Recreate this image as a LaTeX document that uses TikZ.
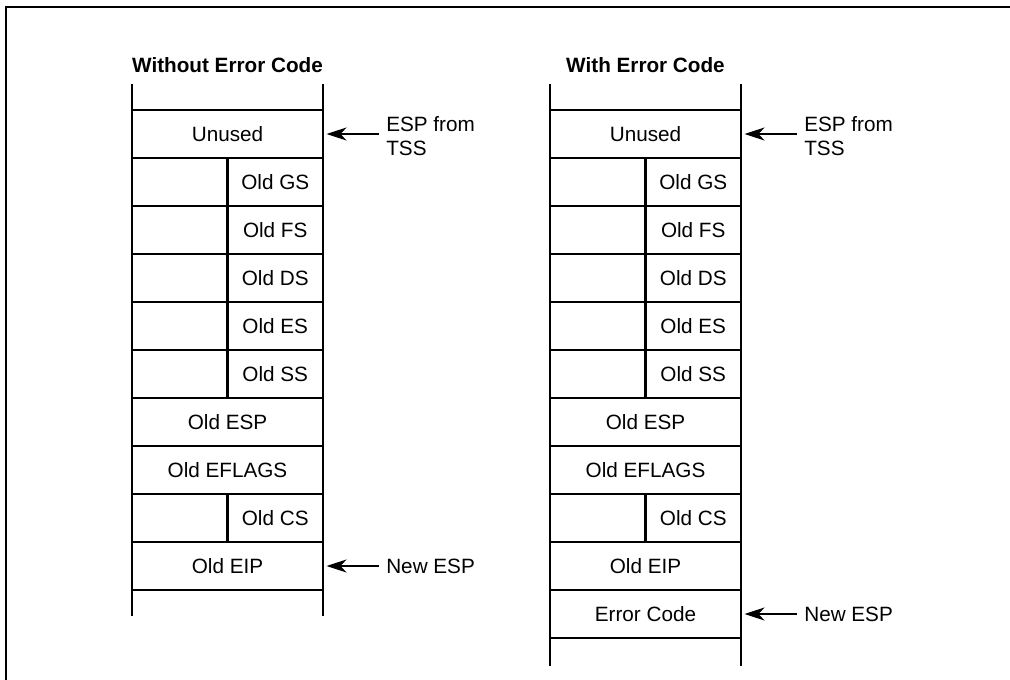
\documentclass[tikz,border=0pt]{standalone}
\usepackage{fontspec}
\setmainfont{Liberation Sans}
\usetikzlibrary{arrows.meta}
\begin{document}
\begin{tikzpicture}[x=1pt,y=-1pt,line width=2.6pt,
  txt/.style={font=\fontsize{20.7}{24}\selectfont},
  full/.style={draw,txt,minimum width=191pt,minimum height=48pt,inner sep=0pt,outer sep=0pt},
  half/.style={draw,txt,minimum width=95.5pt,minimum height=48pt,inner sep=0pt,outer sep=0pt},
  title/.style={font=\fontsize{20.7}{24}\selectfont\bfseries,anchor=base},
  lbl/.style={txt,anchor=west,inner sep=0pt,align=left},
  arr/.style={line width=2pt,-{Stealth[length=20pt,width=13pt,inset=6pt]},shorten >=3.5pt}]
\useasboundingbox (0,0) rectangle (1010,680);
\draw (6,680) -- (6,7) -- (1010,7);
\node[title] (tL) at (227.5,72) {Without Error Code};
\node[title] (tR) at (645.5,72) {With Error Code};
\foreach \dx/\n in {0/L,418/R}{
  \foreach \i/\t in {1/Unused,7/Old ESP,8/Old EFLAGS,10/Old EIP}
    \node[full] (\n\i) at (227.5+\dx,86+48*\i) {\t};
  \foreach \i/\t in {2/Old GS,3/Old FS,4/Old DS,5/Old ES,6/Old SS,9/Old CS}{
    \node[half] (\n\i x) at (179.75+\dx,86+48*\i) {};
    \node[half] (\n\i) at (275.25+\dx,86+48*\i) {\t};
  }
  \draw (\n1.north west) -- ++(0,-26);
  \draw (\n1.north east) -- ++(0,-26);
}
\node[full] (R11) at (645.5,614) {Error Code};
\draw (L10.south west) -- ++(0,26);
\draw (L10.south east) -- ++(0,26);
\draw (R11.south west) -- ++(0,28);
\draw (R11.south east) -- ++(0,28);
% labels and arrows
\node[lbl] (eL) at (385,136) {ESP from\\TSS};
\node[lbl] (eR) at (803,136) {ESP from\\TSS};
\node[lbl] (nL) at (385,566.5) {New ESP};
\node[lbl] (nR) at (803,614.5) {New ESP};
\draw[arr] ([xshift=-6pt]eL.west |- L1.east) -- (L1.east);
\draw[arr] ([xshift=-6pt]eR.west |- R1.east) -- (R1.east);
\draw[arr] ([xshift=-6pt]nL.west |- L10.east) -- (L10.east);
\draw[arr] ([xshift=-6pt]nR.west |- R11.east) -- (R11.east);
\end{tikzpicture}
\end{document}
